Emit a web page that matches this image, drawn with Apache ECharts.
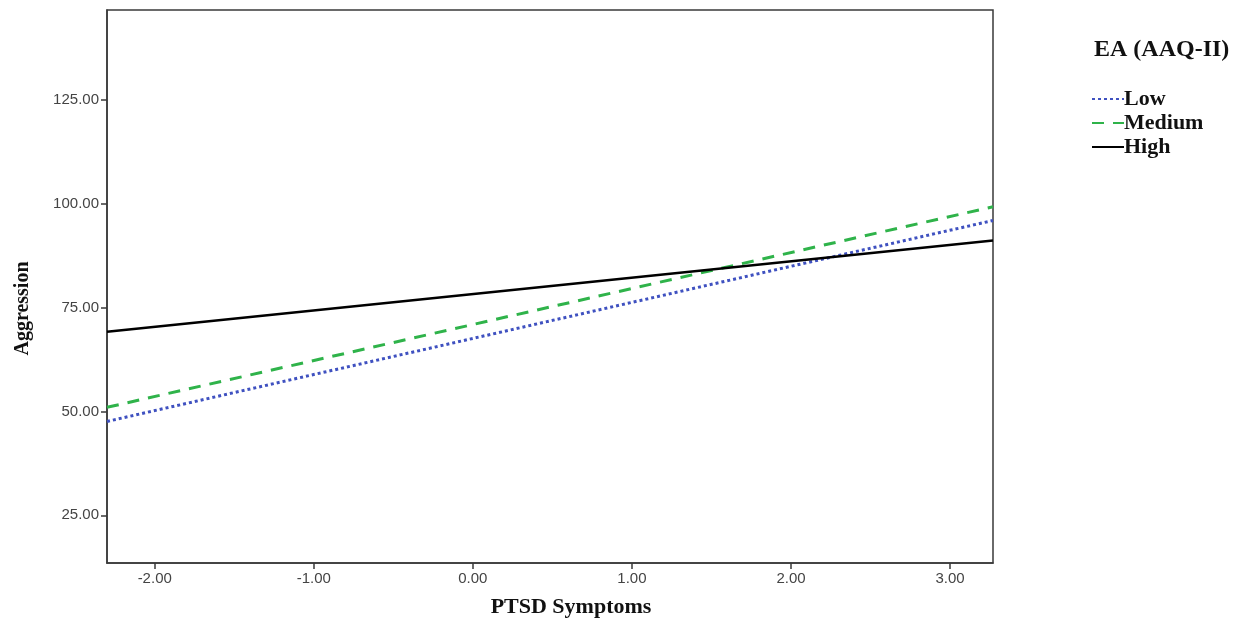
<!DOCTYPE html>
<html><head><meta charset="utf-8">
<script src="https://cdn.jsdelivr.net/npm/echarts@6/dist/echarts.min.js"></script>
<style>html,body{margin:0;padding:0;background:#fff}#c{width:1250px;height:619px}</style>
</head><body><div id="c"></div>
<script>
const xEnds = [-2.3, 3.27];
const lowVals = [47.6, 96.0];
const mediumVals = [51.0, 99.3];
const highVals = [69.2, 91.2];
const seriesNames = ['Low', 'Medium', 'High'];
const xTicks = [-2, -1, 0, 1, 2, 3];
const yTicks = [25, 50, 75, 100, 125];

const chart = echarts.init(document.getElementById('c'));
const pairs = v => xEnds.map((x, i) => [x, v[i]]);
const axisLine = {show: true, onZero: false, lineStyle: {color: '#3a3a3a', width: 1.5}};
const labelStyle = {color: '#444', fontFamily: 'Liberation Sans, Arial', fontSize: 15};
const serif = 'Liberation Serif, Times New Roman';
chart.setOption({
  animation: false,
  grid: {left: 107, right: 257, top: 10, bottom: 56, outerBoundsMode: 'none', containLabel: false, show: true, borderColor: '#3a3a3a', borderWidth: 1.5, backgroundColor: '#fff'},
  title: {text: 'EA (AAQ-II)', left: 1089, top: 33, textStyle: {fontFamily: serif, fontWeight: 'bold', fontSize: 24, color: '#111'}},
  legend: {
    orient: 'vertical', left: 1086, top: 83, itemGap: 2, itemWidth: 32, itemHeight: 21,
    data: seriesNames,
    itemStyle: {opacity: 0},
    textStyle: {fontFamily: serif, fontWeight: 'bold', fontSize: 22, color: '#111', padding: [0, 0, 0, -5]}
  },
  xAxis: {
    type: 'value', min: -2.3, max: 3.27,
    name: 'PTSD Symptoms', nameLocation: 'middle', nameGap: 33,
    nameTextStyle: {fontFamily: serif, fontWeight: 'bold', fontSize: 22, color: '#111', padding: [0, 0, 0, 42]},
    axisLine: axisLine,
    axisTick: {show: true, length: 6, inside: false, customValues: xTicks, lineStyle: {color: '#3a3a3a', width: 1.5}},
    axisLabel: Object.assign({customValues: xTicks, margin: 8, formatter: v => v.toFixed(2)}, labelStyle),
    splitLine: {show: false}
  },
  yAxis: {
    type: 'value', min: 13.5, max: 146.7,
    name: 'Aggression', nameLocation: 'middle', nameGap: 74, nameRotate: 90,
    nameTextStyle: {fontFamily: serif, fontWeight: 'bold', fontSize: 20, color: '#111', padding: [0, 44, 0, 0]},
    axisLine: axisLine,
    axisTick: {show: true, length: 6, customValues: yTicks, lineStyle: {color: '#3a3a3a', width: 1.5}},
    axisLabel: Object.assign({customValues: yTicks, margin: 8, formatter: v => v.toFixed(2)}, labelStyle),
    splitLine: {show: false}
  },
  series: [
    {name: 'Low', type: 'line', data: pairs(lowVals), symbol: 'none', lineStyle: {color: '#3f51c0', width: 3, type: [3, 3]}, itemStyle: {color: '#3f51c0'}},
    {name: 'Medium', type: 'line', data: pairs(mediumVals), symbol: 'none', lineStyle: {color: '#2fb34a', width: 3, type: [12, 9]}, itemStyle: {color: '#2fb34a'}},
    {name: 'High', type: 'line', data: pairs(highVals), symbol: 'none', lineStyle: {color: '#000', width: 2.5, type: 'solid'}, itemStyle: {color: '#000'}}
  ]
});
</script></body></html>
